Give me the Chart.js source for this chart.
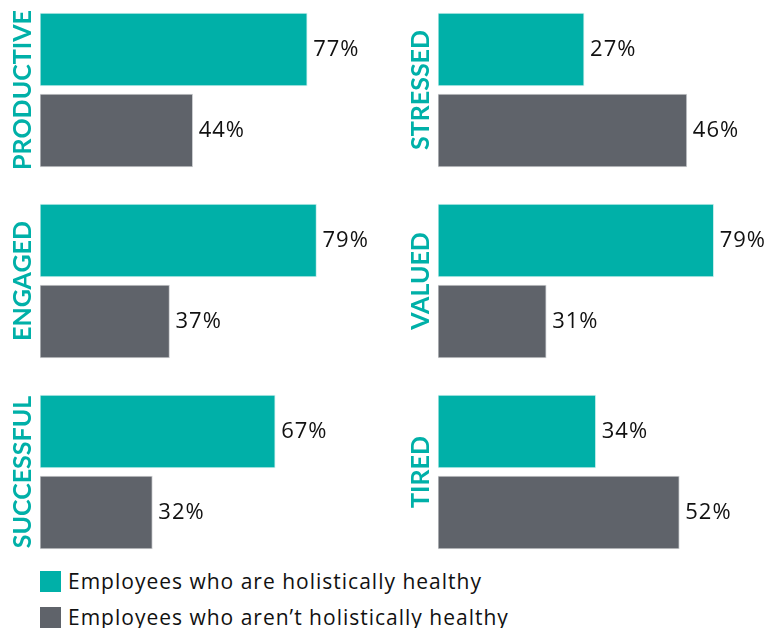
<!DOCTYPE html>
<html>
<head>
<meta charset="utf-8">
<script src="https://cdn.jsdelivr.net/npm/chart.js@4"></script>
<style>
  body { margin: 0; background: #fff; }
  #wrap { position: relative; width: 764px; height: 628px; overflow: hidden; font-family: "Open Sans", sans-serif; }
  .panel { position: absolute; }
  .legend { position: absolute; left: 40px; height: 21px; font-size: 21px; line-height: 21px; letter-spacing: 1px; color: #111; display: flex; align-items: center; white-space: nowrap; }
  .legend span.box { display: inline-block; width: 21px; height: 21px; margin-right: 7px; }
</style>
</head>
<body>
<div id="wrap">
  <div class="panel" style="left:0px;top:9px;width:380px;height:162px"><canvas id="c0"></canvas></div>
  <div class="panel" style="left:0px;top:200px;width:380px;height:162px"><canvas id="c1"></canvas></div>
  <div class="panel" style="left:0px;top:391px;width:380px;height:162px"><canvas id="c2"></canvas></div>
  <div class="panel" style="left:398px;top:9px;width:366px;height:162px"><canvas id="c3"></canvas></div>
  <div class="panel" style="left:398px;top:200px;width:366px;height:162px"><canvas id="c4"></canvas></div>
  <div class="panel" style="left:398px;top:391px;width:366px;height:162px"><canvas id="c5"></canvas></div>
  <div class="legend" style="top:571px"><span class="box" style="background:#00b0a8"></span><span id="lg0"></span></div>
  <div class="legend" style="top:607px"><span class="box" style="background:#5f636a"></span><span id="lg1"></span></div>
</div>
<script>
const panels = ['PRODUCTIVE', 'ENGAGED', 'SUCCESSFUL', 'STRESSED', 'VALUED', 'TIRED'];
const seriesNames = ['Employees who are holistically healthy', 'Employees who aren\u2019t holistically healthy'];
const healthy = [77, 79, 67, 27, 79, 34];
const notHealthy = [44, 37, 32, 46, 31, 52];

// pixels per percentage point in each panel (the panels aren't on a common scale)
const pxPerPct = [3.47, 3.5, 3.51, 5.41, 3.49, 4.64];

const teal = '#00b0a8';
const grey = '#5f636a';

document.getElementById('lg0').textContent = seriesNames[0];
document.getElementById('lg1').textContent = seriesNames[1];

const valueLabels = {
  id: 'valueLabels',
  afterDatasetsDraw(chart) {
    const ctx = chart.ctx;
    ctx.save();
    ctx.font = '22px "Open Sans"';
    ctx.letterSpacing = '1px';
    ctx.fillStyle = '#111';
    ctx.textBaseline = 'middle';
    chart.getDatasetMeta(0).data.forEach((bar, i) => {
      ctx.fillText(chart.data.datasets[0].data[i] + '%', bar.x + 6, bar.y);
    });
    ctx.restore();
  }
};

panels.forEach((name, i) => {
  const canvas = document.getElementById('c' + i);
  const areaWidth = canvas.parentNode.clientWidth - 40;
  new Chart(canvas, {
    type: 'bar',
    data: {
      labels: seriesNames,
      datasets: [{
        data: [healthy[i], notHealthy[i]],
        backgroundColor: [teal, grey],
        borderColor: ['rgba(190,235,232,0.8)', 'rgba(190,192,196,0.8)'],
        borderWidth: 1,
        borderSkipped: false,
        barThickness: 73
      }]
    },
    options: {
      indexAxis: 'y',
      responsive: true,
      maintainAspectRatio: false,
      animation: false,
      layout: { padding: 0 },
      plugins: { legend: { display: false }, tooltip: { enabled: false } },
      scales: {
        x: { display: false, min: 0, max: areaWidth / pxPerPct[i] },
        y: {
          ticks: { display: false },
          grid: { display: false },
          border: { display: false },
          title: {
            display: true,
            text: name,
            color: teal,
            font: { family: 'Lato', size: 25, weight: 'bold', lineHeight: 1 },
            padding: { top: 10, bottom: 0 }
          },
          afterFit(axis) { axis.width = 40; }
        }
      }
    },
    plugins: [valueLabels]
  });
});
</script>
</body>
</html>
